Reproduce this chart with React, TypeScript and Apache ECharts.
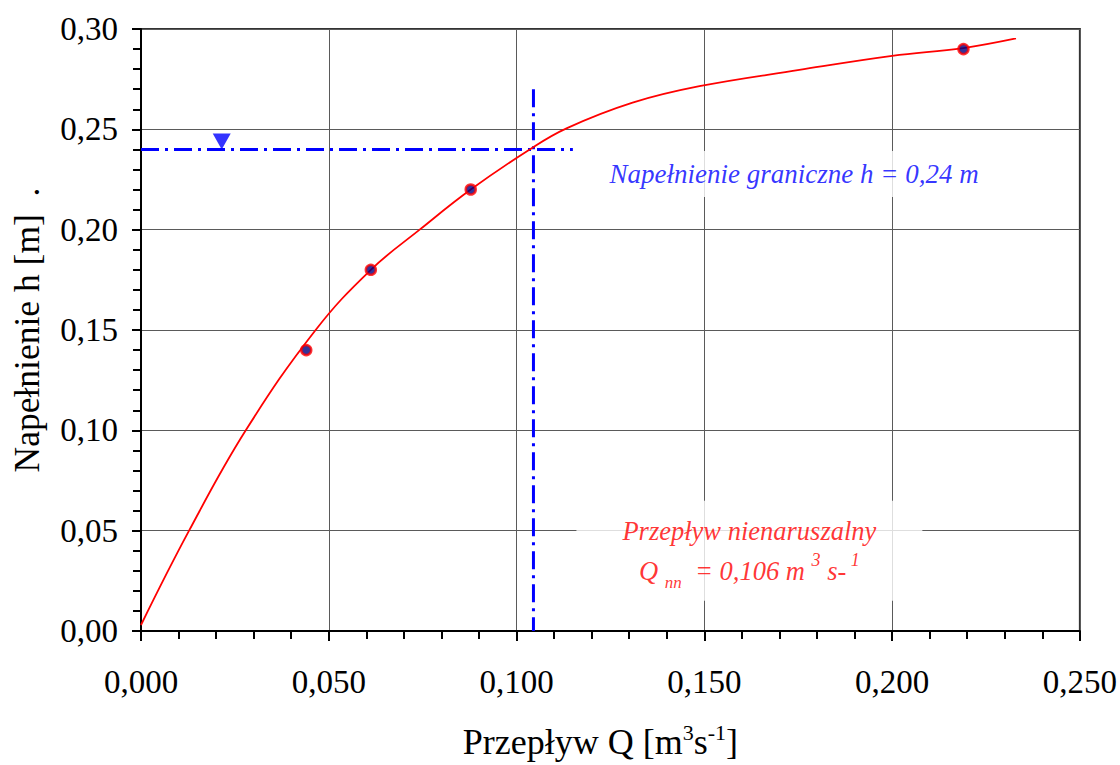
import React, { useEffect, useRef } from 'react';
import * as echarts from 'echarts';

// Rating curve h(Q)
const curveQ = [0, 0.0128, 0.0279, 0.0465, 0.0612, 0.0742, 0.0878, 0.1035, 0.1133, 0.1309, 0.1487, 0.1753, 0.2, 0.219, 0.233];
const curveH = [0.003, 0.05, 0.1, 0.15, 0.18, 0.2, 0.22, 0.24, 0.2505, 0.2633, 0.2715, 0.2796, 0.2866, 0.2905, 0.2953];

// Measured points
const measQ = [0.044, 0.0612, 0.0878, 0.219];
const measH = [0.14, 0.18, 0.22, 0.29];

// Reference lines
const limitH = 0.24;
const limitQEnd = 0.115;
const qnn = 0.1045;
const qnnTop = 0.27;
const markerQ = 0.0215;

// Axes
const xMin = 0, xMax = 0.25, xStep = 0.05;
const yMin = 0, yMax = 0.3, yStep = 0.05;

// Annotations (anchor in data units)
const limitLabelAt = [0.1739, 0.2278];
const qnnLabelAt = [0.162, 0.040];

const FONT = '"Liberation Serif", "Times New Roman", serif';
const BLUE = '#0000ff';
const RED = '#ff0000';
const DASHDOT = [18, 6, 3, 6];

export default function App() {
  const ref = useRef<HTMLDivElement>(null);
  useEffect(() => {
    document.body.style.margin = '0';
    const chart = echarts.init(ref.current!, null, { renderer: 'svg' });
    const tickStyle = { color: '#000', width: 2 };
    chart.setOption({
      animation: false,
      backgroundColor: '#fff',
      grid: { left: 141, right: 40, top: 29, bottom: 129, show: true, borderColor: '#333', borderWidth: 2 },
      xAxis: {
        type: 'value', min: xMin, max: xMax, interval: xStep,
        axisLine: { show: true, onZero: false, lineStyle: { color: '#000', width: 2 } },
        axisTick: { show: true, length: 10, lineStyle: tickStyle },
        minorTick: { show: true, splitNumber: 5, length: 8, lineStyle: tickStyle },
        splitLine: { show: true, lineStyle: { color: '#5a5a5a', width: 1 } },
        axisLabel: {
          fontFamily: FONT, fontSize: 33, color: '#000', margin: 34,
          showMinLabel: true, showMaxLabel: true,
          formatter: (v: number) => v.toFixed(3).replace('.', ','),
        },
        name: '{a|Przepływ Q [m}{sup|3}{a|s}{sup|-1}{a|]}',
        nameLocation: 'middle', nameGap: 90,
        nameTextStyle: {
          fontFamily: FONT, color: '#000', padding: [0, 20, 0, 0],
          rich: {
            a: { fontFamily: FONT, fontSize: 36, color: '#000', lineHeight: 42 },
            sup: { fontFamily: FONT, fontSize: 22, color: '#000', lineHeight: 28, verticalAlign: 'top' },
          },
        },
      },
      yAxis: {
        type: 'value', min: yMin, max: yMax, interval: yStep,
        axisLine: { show: true, onZero: false, lineStyle: { color: '#000', width: 2 } },
        axisTick: { show: true, length: 9, lineStyle: tickStyle },
        minorTick: { show: true, splitNumber: 5, length: 8, lineStyle: tickStyle },
        splitLine: { show: true, lineStyle: { color: '#5a5a5a', width: 1 } },
        axisLabel: {
          fontFamily: FONT, fontSize: 33, color: '#000', margin: 23,
          showMinLabel: true, showMaxLabel: true,
          formatter: (v: number) => v.toFixed(2).replace('.', ','),
        },
        name: 'Napełnienie h [m]  .',
        nameLocation: 'middle', nameGap: 96,
        nameTextStyle: { fontFamily: FONT, fontSize: 35.5, color: '#000' },
      },
      series: [
        {
          type: 'line', data: curveQ.map((q, i) => [q, curveH[i]]),
          showSymbol: false, smooth: 0.4, z: 3,
          lineStyle: { color: RED, width: 1.8 },
        },
        {
          type: 'line', data: [[0, limitH], [limitQEnd, limitH]],
          showSymbol: false, z: 2,
          lineStyle: { color: BLUE, width: 3, type: DASHDOT },
        },
        {
          type: 'line', data: [[qnn, qnnTop], [qnn, 0]],
          showSymbol: false, z: 2,
          lineStyle: { color: BLUE, width: 3, type: DASHDOT },
        },
        {
          type: 'scatter', data: [[markerQ, limitH]],
          symbol: 'triangle', symbolRotate: 180, symbolSize: [18, 16], symbolOffset: [0, -8],
          itemStyle: { color: BLUE }, z: 4,
        },
        {
          type: 'scatter', data: measQ.map((q, i) => [q, measH[i]]),
          symbol: 'circle', symbolSize: 10, z: 5,
          itemStyle: { color: '#000080', borderColor: RED, borderWidth: 2.5 },
        },
        {
          type: 'scatter', data: [limitLabelAt], symbolSize: 1, z: 6, silent: true,
          itemStyle: { color: 'transparent' },
          label: {
            show: true, position: 'inside', align: 'center', verticalAlign: 'middle',
            formatter: 'Napełnienie graniczne h = 0,24 m',
            fontFamily: FONT, fontSize: 27, fontStyle: 'italic', color: BLUE,
            backgroundColor: '#fff', padding: [10, 12, 9, 12],
          },
        },
        {
          type: 'scatter', data: [qnnLabelAt], symbolSize: 1, z: 6, silent: true,
          itemStyle: { color: 'transparent' },
          label: {
            show: true, position: 'inside', align: 'center', verticalAlign: 'middle',
            formatter: '{a|Przepływ nienaruszalny}\n{a|Q }{sub|nn}{a|  = 0,106 m }{sup|3}{a| s-}{sup| 1}',
            backgroundColor: '#fff', padding: [10, 46, 10, 46],
            rich: {
              a: { fontFamily: FONT, fontSize: 26.5, fontStyle: 'italic', color: RED, lineHeight: 40 },
              sub: { fontFamily: FONT, fontSize: 17, fontStyle: 'italic', color: RED, lineHeight: 20, verticalAlign: 'bottom' },
              sup: { fontFamily: FONT, fontSize: 18, fontStyle: 'italic', color: RED, lineHeight: 22, verticalAlign: 'top' },
            },
          },
        },
      ],
    });
    return () => chart.dispose();
  }, []);
  return <div ref={ref} style={{ width: 1120, height: 765 }} />;
}
